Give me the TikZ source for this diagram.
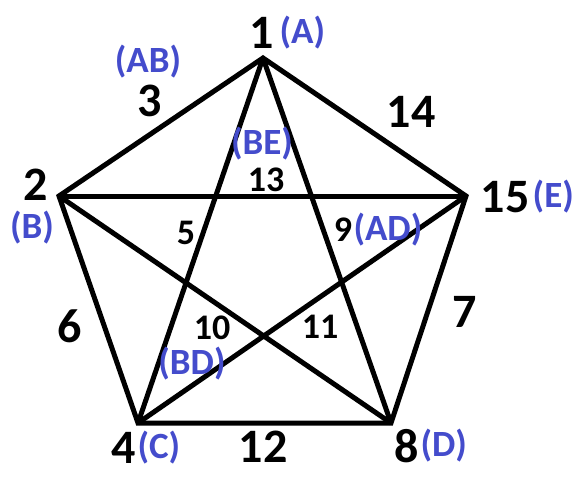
\documentclass[tikz,border=0pt]{standalone}
\usepackage{fontspec}
\setmainfont{Carlito}
\usetikzlibrary{positioning}
\definecolor{tagblue}{RGB}{68,76,204}

\begin{document}
\begin{tikzpicture}[
  x=1pt, y=-1pt,
  edge/.style={line width=5pt, line join=miter},
  big/.style={font=\fontsize{48}{50}\selectfont\bfseries, inner sep=0pt},
  small/.style={font=\fontsize{36}{38}\selectfont\bfseries, inner sep=0pt},
  tag/.style={font=\fontsize{37}{39}\selectfont\bfseries, text=tagblue, inner sep=0pt}
]
\useasboundingbox (0,0) rectangle (580,476);

% corners of the pentagon
\coordinate (v1) at (263,58);
\coordinate (v2) at (59,196);
\coordinate (v15) at (466,196);
\coordinate (v4) at (138,423);
\coordinate (v8) at (391,423);

% outer ring and the star inside
\draw[edge] (v1) -- (v2) -- (v4) -- (v8) -- (v15) -- cycle;
\draw[edge] (v1) -- (v4);
\draw[edge] (v1) -- (v8);
\draw[edge] (v2) -- (v15);
\draw[edge] (v2) -- (v8);
\draw[edge] (v15) -- (v4);

% vertex numbers
\node[big] (n1) at (262,33) {1};
\node[tag, right=5pt of n1] (nA) {(A)};
\node[big] (n2) at (36,185) {2};
\node[tag] (nB) at (32,228) {(B)};
\node[big] (n15) at (505,197) {15};
\node[tag, right=3pt of n15] (nE) {(E)};
\node[big] (n4) at (124,448) {4};
\node[tag, right=1pt of n4] (nC) {(C)};
\node[big] (n8) at (407,446) {8};
\node[tag, right=1pt of n8] (nD) {(D)};

% edge numbers
\node[big] (e3) at (150,101) {3};
\node[tag] (tAB) at (148,62) {(AB)};
\node[big] (e14) at (411,112) {14};
\node[small] (e13) at (266,180) {13};
\node[tag] (tBE) at (262,144) {(BE)};
\node[small] (e5) at (186,233) {5};
\node[small] (e9) at (343,230) {9};
\node[tag, right=1pt of e9] (tAD) {(AD)};
\node[big] (e6) at (70,326) {6};
\node[small] (e10) at (212,328) {10};
\node[tag] (tBD) at (192,364) {(BD)};
\node[small] (e11) at (320,327) {11};
\node[big] (e7) at (465,312) {7};
\node[big] (e12) at (263,447) {12};
\end{tikzpicture}
\end{document}
